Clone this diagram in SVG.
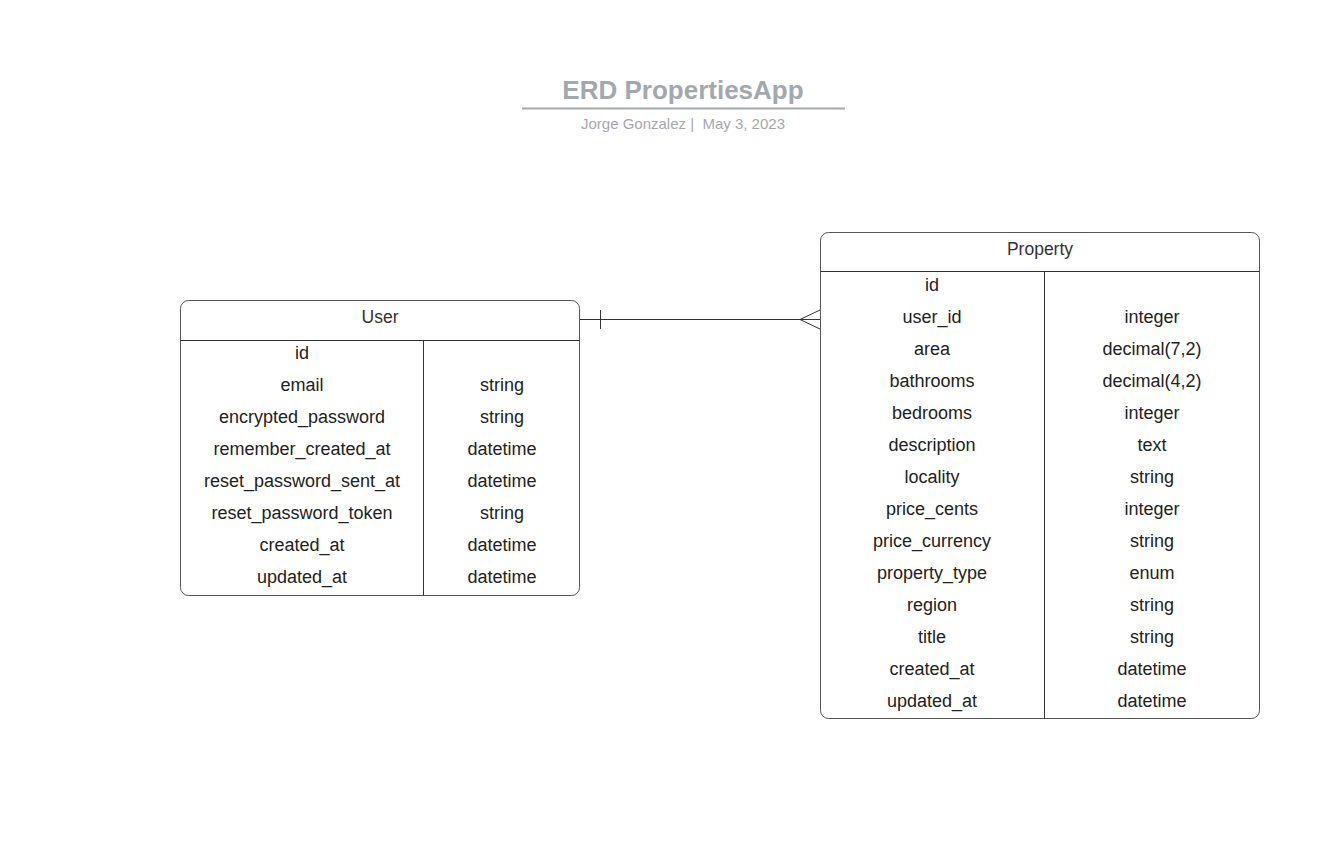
<svg xmlns="http://www.w3.org/2000/svg" width="1324" height="864" viewBox="0 0 1324 864">
<style>
.box{fill:#fff;stroke:#555;stroke-width:1}
.ln{stroke:#333;stroke-width:1;fill:none}
.t{font-family:"Liberation Sans",Arial,sans-serif;font-size:18px;fill:#222;text-anchor:middle}
.h{font-family:"Liberation Sans",Arial,sans-serif;font-size:17.5px;fill:#333;text-anchor:middle}
</style>
<rect width="1324" height="864" fill="#fff"/>
<g id="title">
<text x="683" y="99" text-anchor="middle" font-family="Liberation Sans,Arial,sans-serif" font-size="26" font-weight="bold" fill="#a3a8b0">ERD PropertiesApp</text>
<line x1="522" y1="108.5" x2="845" y2="108.5" stroke="#a3a8b0" stroke-width="2"/>
<text x="683" y="129" text-anchor="middle" font-family="Liberation Sans,Arial,sans-serif" font-size="15" fill="#a3a8b0" style="white-space:pre" xml:space="preserve">Jorge Gonzalez |  May 3, 2023</text>
</g>
<g id="connectors">
<line class="ln" x1="580" y1="319.5" x2="820" y2="319.5"/>
<line class="ln" x1="600.5" y1="310" x2="600.5" y2="329"/>
<polyline class="ln" points="820,310 800,319.5 820,329"/>
</g>
<g id="user">
<rect class="box" x="180.5" y="300.5" width="399" height="295" rx="8"/>
<line class="ln" x1="180.5" y1="340.5" x2="579.5" y2="340.5"/>
<line class="ln" x1="423.5" y1="340.5" x2="423.5" y2="595.5"/>
<text class="h" x="380" y="323">User</text>
<text class="t" x="302" y="359">id</text>
<text class="t" x="302" y="391">email</text>
<text class="t" x="502" y="391">string</text>
<text class="t" x="302" y="423">encrypted_password</text>
<text class="t" x="502" y="423">string</text>
<text class="t" x="302" y="455">remember_created_at</text>
<text class="t" x="502" y="455">datetime</text>
<text class="t" x="302" y="487">reset_password_sent_at</text>
<text class="t" x="502" y="487">datetime</text>
<text class="t" x="302" y="519">reset_password_token</text>
<text class="t" x="502" y="519">string</text>
<text class="t" x="302" y="551">created_at</text>
<text class="t" x="502" y="551">datetime</text>
<text class="t" x="302" y="583">updated_at</text>
<text class="t" x="502" y="583">datetime</text>
</g>
<g id="property">
<rect class="box" x="820.5" y="232.5" width="439" height="486" rx="8"/>
<line class="ln" x1="820.5" y1="271.5" x2="1259.5" y2="271.5"/>
<line class="ln" x1="1044.5" y1="271.5" x2="1044.5" y2="718.5"/>
<text class="h" x="1040" y="255">Property</text>
<text class="t" x="932" y="291">id</text>
<text class="t" x="932" y="323">user_id</text>
<text class="t" x="1152" y="323">integer</text>
<text class="t" x="932" y="355">area</text>
<text class="t" x="1152" y="355">decimal(7,2)</text>
<text class="t" x="932" y="387">bathrooms</text>
<text class="t" x="1152" y="387">decimal(4,2)</text>
<text class="t" x="932" y="419">bedrooms</text>
<text class="t" x="1152" y="419">integer</text>
<text class="t" x="932" y="451">description</text>
<text class="t" x="1152" y="451">text</text>
<text class="t" x="932" y="483">locality</text>
<text class="t" x="1152" y="483">string</text>
<text class="t" x="932" y="515">price_cents</text>
<text class="t" x="1152" y="515">integer</text>
<text class="t" x="932" y="547">price_currency</text>
<text class="t" x="1152" y="547">string</text>
<text class="t" x="932" y="579">property_type</text>
<text class="t" x="1152" y="579">enum</text>
<text class="t" x="932" y="611">region</text>
<text class="t" x="1152" y="611">string</text>
<text class="t" x="932" y="643">title</text>
<text class="t" x="1152" y="643">string</text>
<text class="t" x="932" y="675">created_at</text>
<text class="t" x="1152" y="675">datetime</text>
<text class="t" x="932" y="707">updated_at</text>
<text class="t" x="1152" y="707">datetime</text>
</g>
</svg>
